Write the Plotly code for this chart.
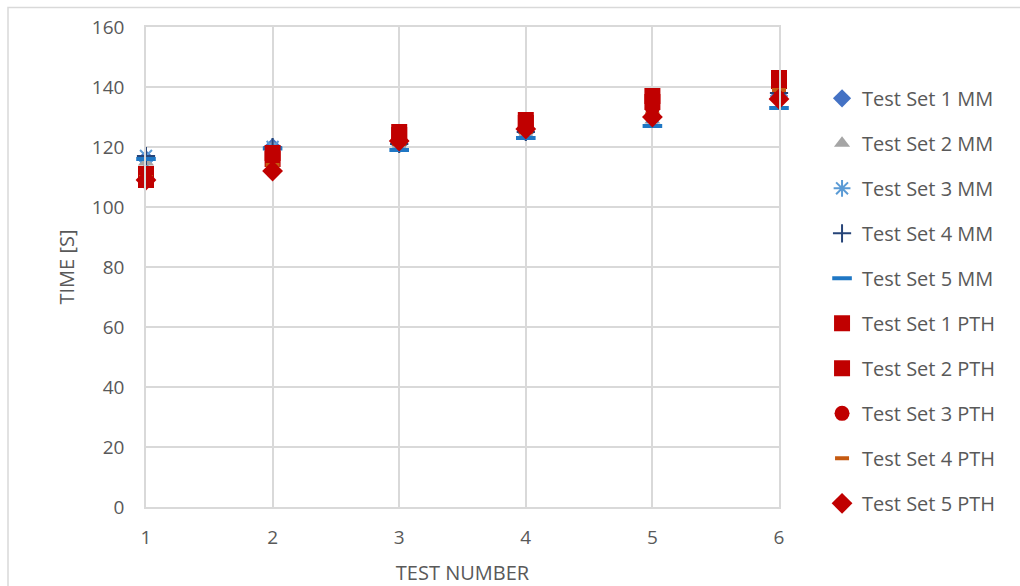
import plotly.graph_objects as go

# Test numbers on the x axis
test_number = [1, 2, 3, 4, 5, 6]

# Times in seconds for each test set
mm_set1 = [116, 120, 121, 125, 130, 137]
mm_set2 = [115, 120, 120.5, 124.5, 129, 137]
mm_set3 = [117, 120, 121, 125, 130, 137]
mm_set4 = [117, 120, 121, 125, 130, 138]
mm_set5 = [116, 119.5, 119, 123, 127, 133]
pth_set1 = [111, 118, 125, 129, 137, 143]
pth_set2 = [109, 116, 124, 128, 135, 142]
pth_set3 = [110, 115, 123, 127, 133, 140]
pth_set4 = [110, 114, 121, 125, 131, 139]
pth_set5 = [109, 112, 122, 126, 130, 136]

series = [
    ("Test Set 1 MM", mm_set1, dict(symbol="diamond", size=14, color="#4472C4")),
    ("Test Set 2 MM", mm_set2, dict(symbol="triangle-up", size=14, color="#A5A5A5")),
    ("Test Set 3 MM", mm_set3, dict(symbol="asterisk-open", size=14, color="#5B9BD5",
                                    line=dict(color="#5B9BD5", width=2))),
    ("Test Set 4 MM", mm_set4, dict(symbol="cross-thin-open", size=13, color="#264478",
                                    line=dict(color="#264478", width=2))),
    ("Test Set 5 MM", mm_set5, dict(symbol="line-ew-open", size=14, color="#1F77C4",
                                    line=dict(color="#1F77C4", width=4))),
    ("Test Set 1 PTH", pth_set1, dict(symbol="square", size=16, color="#C00000")),
    ("Test Set 2 PTH", pth_set2, dict(symbol="square", size=16, color="#C00000")),
    ("Test Set 3 PTH", pth_set3, dict(symbol="circle", size=15, color="#C00000")),
    ("Test Set 4 PTH", pth_set4, dict(symbol="line-ew-open", size=10, color="#C55A11",
                                      line=dict(color="#C55A11", width=4))),
    ("Test Set 5 PTH", pth_set5, dict(symbol="diamond", size=16, color="#C00000")),
]

fig = go.Figure()
for i, (name, values, marker) in enumerate(series):
    fig.add_trace(go.Scatter(
        x=test_number, y=values, mode="markers", name=name,
        marker=marker, legendgroup=f"g{i}", cliponaxis=False,
    ))

grid = "#D9D9D9"
text_color = "#595959"
font_family = "Open Sans, Liberation Sans, sans-serif"

fig.update_layout(
    width=1020, height=586,
    margin=dict(l=146, r=241, t=27, b=79, autoexpand=False),
    paper_bgcolor="white", plot_bgcolor="white",
    font=dict(family=font_family, size=19, color=text_color),
    showlegend=True,
    legend=dict(
        x=1.068, y=0.892, xanchor="left", yanchor="top",
        font=dict(size=20, color=text_color),
        tracegroupgap=16, itemsizing="trace",
        bgcolor="rgba(0,0,0,0)",
    ),
    xaxis=dict(
        range=[1, 6], tickvals=test_number, showgrid=True, gridcolor=grid,
        gridwidth=1.5, zeroline=False, showline=True, linecolor=grid, linewidth=1.5,
        mirror=True, ticks="", ticklabelstandoff=12, tickfont=dict(size=19, color=text_color),
        automargin=False,
        title=dict(text="TEST NUMBER", font=dict(size=20, color=text_color), standoff=20),
    ),
    yaxis=dict(
        range=[0, 160], dtick=20, showgrid=True, gridcolor=grid, gridwidth=1.5,
        zeroline=False, showline=True, linecolor=grid, linewidth=1.5, mirror=True,
        ticks="", ticklabelstandoff=16, tickfont=dict(size=19, color=text_color),
        automargin=False,
        title=dict(text="TIME [S]", font=dict(size=20, color=text_color), standoff=12),
    ),
)

# Light frame around the whole chart area
fig.add_shape(
    type="rect", xref="paper", yref="paper",
    x0=(8 - 146) / 633, x1=(1030 - 146) / 633,
    y0=(507 - 600) / 480, y1=(507 - 7.5) / 480,
    line=dict(color="#D9D9D9", width=1.5), fillcolor="rgba(0,0,0,0)", layer="below",
)

fig.write_html("out.html")
